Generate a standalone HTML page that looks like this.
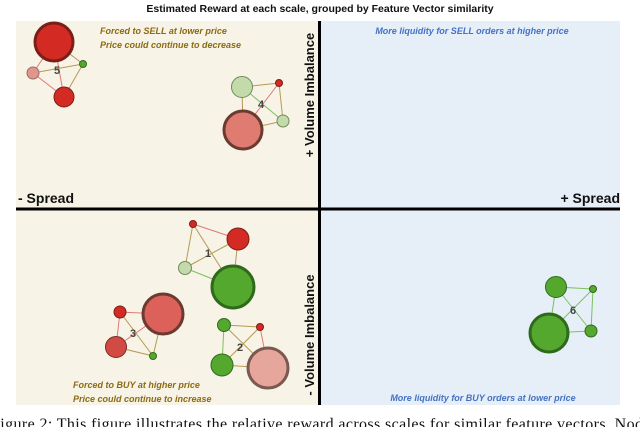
<!DOCTYPE html>
<html><head><meta charset="utf-8"><style>
html,body{margin:0;padding:0;background:#fff;width:640px;height:427px;overflow:hidden}
svg{display:block}
.lab{font-family:"Liberation Sans",sans-serif}
</style></head><body>
<svg id="chart" width="640" height="427" viewBox="0 0 640 427">
<text x="320" y="12" text-anchor="middle" class="lab" font-size="10.5" font-weight="bold" fill="#111">Estimated Reward at each scale, grouped by Feature Vector similarity</text>
<rect x="16" y="21" width="303" height="188" fill="#f7f3e6"/>
<rect x="320" y="21" width="300" height="188" fill="#e6eef8"/>
<rect x="16" y="209" width="303" height="196" fill="#f7f3e6"/>
<rect x="320" y="209" width="300" height="196" fill="#e6eef8"/>
<line x1="16" y1="209" x2="620" y2="209" stroke="#000" stroke-width="3"/>
<line x1="319.5" y1="21" x2="319.5" y2="405" stroke="#000" stroke-width="3"/>
<text x="18" y="203" class="lab" font-size="14" font-weight="bold" fill="#111">- Spread</text>
<text x="620" y="203" text-anchor="end" class="lab" font-size="14" font-weight="bold" fill="#111">+ Spread</text>
<text transform="translate(314,95) rotate(-90)" text-anchor="middle" class="lab" font-size="13" font-weight="bold" fill="#111">+ Volume Imbalance</text>
<text transform="translate(314,335) rotate(-90)" text-anchor="middle" class="lab" font-size="13" font-weight="bold" fill="#111">- Volume Imbalance</text>
<g class="lab" font-size="9" font-weight="bold" font-style="italic" fill="#8a6a12">
<text x="100" y="34">Forced to SELL at lower price</text>
<text x="100" y="48">Price could continue to decrease</text>
<text x="73" y="388">Forced to BUY at higher price</text>
<text x="73" y="402">Price could continue to increase</text>
</g>
<g class="lab" font-size="9" font-weight="bold" font-style="italic" fill="#4472c4">
<text x="472" y="34" text-anchor="middle">More liquidity for SELL orders at higher price</text>
<text x="483" y="401" text-anchor="middle">More liquidity for BUY orders at lower price</text>
</g>
<g id="graphs"></g>
<text x="-9" y="429" font-family="'Liberation Serif',serif" font-size="16" fill="#111" textLength="652">Figure 2: This figure illustrates the relative reward across scales for similar feature vectors. Nod</text>
</svg>
<script>
// Node data per group: id, x, y, radius, color kind
const groupIds = [1, 2, 3, 4, 5, 6];
const groupLabelX = [208, 240, 133, 261, 57, 573];
const groupLabelY = [253, 347, 333, 104, 70, 310];
const nodeGroup = [5,5,5,5, 4,4,4,4, 1,1,1,1, 3,3,3,3, 2,2,2,2, 6,6,6,6];
const nodeX = [54,33,83,64, 242,279,283,243, 193,238,185,233, 120,163,116,153, 224,260,222,268, 556,593,549,591];
const nodeY = [42,73,64,97, 87,83,121,130, 224,239,268,287, 312,314,347,356, 325,327,365,368, 287,289,333,331];
const nodeR = [19,6,3.5,10, 10.5,3.5,6,19, 3.5,11,6.5,21, 6,20,10.5,3.5, 6.5,3.5,11,20, 10.5,3.5,19,6];
const nodeKind = ['red','pink','green','red', 'lgreen','red','lgreen','pink2', 'red','red','lgreen','green', 'red','pinkred','red2','green', 'green','red','green','lpink', 'green','green','green','green'];
const fills = {red:'#d32a24',pink:'#e0958f',pink2:'#e07b72',green:'#55a82e',lgreen:'#c3dbab',pinkred:'#dc615a',red2:'#d24a44',lpink:'#e6a69c'};
const strokes = {red:'#7a1e18',pink:'#a06a64',pink2:'#6b3a30',green:'#2f6a1c',lgreen:'#6f8a5c',pinkred:'#6b3a30',red2:'#7a2a24',lpink:'#7a5a50'};
const isGreen = k => k==='green'||k==='lgreen';
const NS='http://www.w3.org/2000/svg';
const g=document.getElementById('graphs');
groupIds.forEach((gid,gi)=>{
  const idx=[];nodeGroup.forEach((v,i)=>{if(v===gid)idx.push(i);});
  for(let a=0;a<idx.length;a++)for(let b=a+1;b<idx.length;b++){
    const i=idx[a],j=idx[b];
    const ln=document.createElementNS(NS,'line');
    ln.setAttribute('x1',nodeX[i]);ln.setAttribute('y1',nodeY[i]);
    ln.setAttribute('x2',nodeX[j]);ln.setAttribute('y2',nodeY[j]);
    const gi2=isGreen(nodeKind[i]),gj=isGreen(nodeKind[j]);
    ln.setAttribute('stroke',gi2&&gj?'#7cc060':(!gi2&&!gj?'#e07a74':'#b59a55'));
    ln.setAttribute('stroke-width','1');
    
    
    g.appendChild(ln);
  }
  const t=document.createElementNS(NS,'text');
  t.setAttribute('x',groupLabelX[gi]);t.setAttribute('y',groupLabelY[gi]+4);
  t.setAttribute('text-anchor','middle');t.setAttribute('font-size','11');t.setAttribute('font-weight','bold');
  t.setAttribute('font-family','Liberation Sans, sans-serif');t.setAttribute('fill','#444');
  t.textContent=String(gid);
  
  
  g.appendChild(t);
  idx.forEach(i=>{
    const c=document.createElementNS(NS,'circle');
    c.setAttribute('cx',nodeX[i]);c.setAttribute('cy',nodeY[i]);c.setAttribute('r',nodeR[i]);
    c.setAttribute('fill',fills[nodeKind[i]]);c.setAttribute('stroke',strokes[nodeKind[i]]);
    c.setAttribute('stroke-width',nodeR[i]>15?'3':'1');
    
    
    g.appendChild(c);
  });
});
</script>
</body></html>
